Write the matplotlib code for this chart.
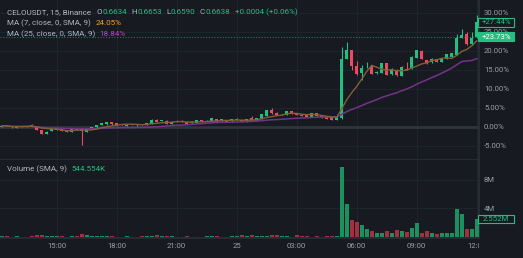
"""CELOUSDT 15m - gráfico de velas em escala percentual, estilo TradingView escuro."""

import matplotlib.pyplot as plt
import numpy as np
import pandas as pd
from matplotlib.patches import Rectangle
from matplotlib.transforms import Bbox, TransformedBbox, blended_transform_factory

# Dados (variação % em relação ao início da janela)
abertura = [
    0.0, 0.35, 0.1, -0.25, 0.1, 0.05, 0.35, 0.1, -0.85, -1.9,
    -1.2, -0.8, -0.5, -0.9, -1.45, -0.55, -0.55, -1.3, -0.6, -0.2,
    0.4, 0.6, 1.15, 0.9, 0.4, 0.2, 0.55, 0.35, 0.55, 0.5,
    0.8, 1.85, 1.45, 1.6, 0.8, 1.6, 1.6, 1.35, 0.9, 1.05,
    1.75, 1.45, 1.6, 2.1, 1.4, 1.75, 1.4, 1.7, 1.75, 1.4,
    2.4, 1.7, 1.95, 2.8, 4.4, 3.7, 3.0, 3.2, 4.05, 3.5,
    3.2, 3.25, 2.65, 3.5, 2.95, 2.6, 2.45, 1.75, 2.2, 17.9,
    20.2, 16.0, 14.0, 15.6, 16.0, 14.0, 14.2, 16.7, 13.9, 14.9,
    13.4, 15.3, 15.4, 18.1, 20.0, 17.5, 16.9, 17.8, 17.0, 17.9,
    18.4, 18.9, 23.4, 24.4, 21.7, 23.5,
]
maxima = [
    0.4, 0.45, 0.15, 0.05, 0.15, 0.3, 0.7, 0.15, -0.8, -1.25,
    -0.55, -0.4, -0.45, -0.85, -0.65, -0.5, -0.5, -0.55, 0.0, 0.5,
    1.05, 1.2, 1.2, 0.95, 0.6, 0.6, 0.6, 0.8, 0.6, 1.05,
    1.9, 1.9, 1.7, 1.65, 1.4, 1.65, 1.65, 1.4, 1.4, 1.8,
    1.8, 1.65, 2.3, 2.15, 2.0, 1.8, 2.1, 2.3, 1.8, 2.05,
    2.8, 2.35, 3.35, 4.5, 4.8, 3.75, 3.3, 4.15, 4.1, 3.55,
    3.25, 3.3, 3.55, 3.55, 3.0, 2.65, 2.5, 2.5, 21.0, 22.4,
    20.3, 17.4, 16.2, 17.0, 16.2, 14.6, 16.8, 16.8, 15.5, 15.2,
    15.9, 17.0, 18.5, 20.3, 20.1, 17.6, 18.0, 17.9, 18.1, 19.1,
    19.4, 24.5, 25.6, 25.0, 25.0, 29.4,
]
minimas = [
    -0.1, 0.1, -0.3, -0.3, 0.0, 0.0, 0.15, -0.9, -1.85, -1.95,
    -1.25, -0.85, -1.05, -1.5, -1.5, -0.9, -4.8, -1.35, -0.65, -0.25,
    0.35, 0.55, 0.55, 0.3, 0.35, 0.15, 0.35, 0.3, 0.4, 0.45,
    0.75, 1.15, 1.4, 0.75, 0.75, 1.35, 1.25, 0.65, 0.85, 1.0,
    1.25, 1.4, 1.55, 1.35, 1.35, 1.3, 1.35, 1.65, 1.2, 1.35,
    1.75, 1.65, 1.9, 2.75, 3.45, 2.95, 2.95, 3.15, 3.3, 2.95,
    2.85, 2.6, 2.6, 2.75, 2.4, 1.95, 1.7, 1.7, 2.1, 17.8,
    14.9, 13.6, 12.3, 15.4, 13.8, 13.9, 14.1, 13.6, 13.6, 13.4,
    13.3, 14.9, 15.3, 18.0, 17.7, 16.6, 16.8, 16.9, 16.9, 17.8,
    18.3, 18.8, 23.3, 21.6, 21.6, 23.4,
]
fechamento = [
    0.25, 0.15, -0.2, 0.0, 0.05, 0.25, 0.2, -0.85, -1.8, -1.3,
    -0.6, -0.45, -1.0, -1.4, -0.7, -0.85, -1.2, -0.6, -0.05, 0.45,
    1.0, 1.15, 0.6, 0.35, 0.55, 0.55, 0.4, 0.75, 0.45, 1.0,
    1.85, 1.2, 1.65, 0.8, 1.35, 1.4, 1.3, 0.7, 1.35, 1.75,
    1.3, 1.6, 2.2, 1.4, 1.95, 1.35, 1.95, 2.0, 1.25, 2.0,
    1.8, 2.3, 3.25, 4.4, 3.5, 3.0, 3.15, 4.1, 3.35, 3.0,
    2.9, 2.65, 3.5, 2.8, 2.45, 2.0, 1.75, 2.45, 17.9, 20.2,
    16.0, 13.9, 15.4, 15.8, 13.9, 14.4, 16.7, 13.7, 15.1, 13.5,
    15.8, 15.0, 18.3, 20.2, 17.8, 16.8, 17.9, 17.0, 18.0, 19.0,
    19.3, 23.3, 24.1, 21.7, 23.3, 27.44,
]
# Volume em milhões
volume = [
    0.15, 0.12, 0.1, 0.12, 0.08, 0.1, 0.12, 0.35, 0.25, 0.18,
    0.15, 0.12, 0.12, 0.1, 0.15, 0.2, 0.45, 0.25, 0.18, 0.15,
    0.12, 0.15, 0.12, 0.1, 0.1, 0.12, 0.08, 0.1, 0.15, 0.12,
    0.18, 0.3, 0.12, 0.15, 0.12, 0.1, 0.1, 0.12, 0.1, 0.1,
    0.1, 0.12, 0.15, 0.12, 0.1, 0.1, 0.15, 0.2, 0.25, 0.2,
    0.25, 0.2, 0.15, 0.18, 0.3, 0.25, 0.15, 0.15, 0.1, 0.25,
    0.12, 0.15, 0.1, 0.12, 0.1, 0.2, 0.2, 0.15, 9.83, 4.58,
    2.46, 2.18, 1.76, 1.2, 0.92, 0.63, 0.63, 0.92, 0.6, 1.06,
    0.87, 0.77, 1.29, 1.95, 0.6, 0.87, 0.6, 0.49, 0.54, 0.6,
    0.6, 3.97, 3.26, 1.2, 1.1, 2.552,
]

rotulos_tempo = ["15:00", "18:00", "21:00", "25", "03:00", "06:00", "09:00", "12:00"]
pos_tempo = [11, 23, 35, 47, 59, 71, 83, 95]
ticks_preco = [-5, 0, 5, 10, 15, 20, 25, 30]
ticks_volume = [4, 8]
rotulos_volume = ["4M", "8M"]

ultimo_pct = 27.44
linha_pct = 23.73
ultimo_volume = 2.552

# Cores
FUNDO = "#171a21"
GRADE = "#1f232b"
SEPARADOR = "#2b2f38"
TEXTO = "#b2b5be"
TEXTO_EIXO = "#9a9da6"
VERDE = "#22bf80"
VERMELHO = "#ec4a5f"
VERDE_VOL = "#1b9160"
VERMELHO_VOL = "#a3303f"
COR_MA7 = "#7f6135"
COR_MA25 = "#74338a"

plt.rcParams["font.family"] = ["Roboto", "DejaVu Sans"]
FS = 5.6
FS_LEG = 5.8

W, H = 523, 258


def caixa(x0, y0, x1, y1):
    """Retângulo em pixels (y a partir do topo) -> coordenadas da figura."""
    return [x0 / W, 1 - y1 / H, (x1 - x0) / W, (y1 - y0) / H]


fig = plt.figure(figsize=(W / 100, H / 100), dpi=100)
fig.patch.set_facecolor(FUNDO)

ax = fig.add_axes(caixa(0, 0, 479, 159.5))
axv = fig.add_axes(caixa(0, 160, 479, 238), sharex=ax)

x = np.arange(len(fechamento))
o = np.array(abertura)
c = np.array(fechamento)
hi = np.array(maxima)
lo = np.array(minimas)
sobe = c >= o
cores = np.where(sobe, VERDE, VERMELHO)
cores_vol = np.where(sobe, VERDE_VOL, VERMELHO_VOL)

for a in (ax, axv):
    a.set_facecolor(FUNDO)
    for lado in ("top", "left"):
        a.spines[lado].set_visible(False)
    for lado in ("right", "bottom"):
        a.spines[lado].set_color(SEPARADOR)
        a.spines[lado].set_linewidth(1.2)
    a.yaxis.tick_right()
    a.tick_params(length=0, labelsize=FS, colors=TEXTO_EIXO, pad=3.6)
    a.grid(True, color=GRADE, lw=0.8)
    a.set_axisbelow(True)

ax.set_xlim(-0.34, 95.46)
ax.set_ylim(-8.63, 33.34)
ax.set_yticks(ticks_preco)
ax.set_yticklabels([f"{t:.2f}%" for t in ticks_preco])
ax.set_xticks(pos_tempo)
ax.tick_params(axis="x", labelbottom=False)

# Linha base 0%
ax.axhline(0, color="#30343d", lw=2.0, zorder=1)
# Linha pontilhada do preço
ax.axhline(linha_pct, color=VERDE, lw=0.8, ls=(0, (1, 1.5)), alpha=0.6, zorder=2)

# Velas
corpo = np.maximum(np.abs(c - o), 0.15)
ax.vlines(x, lo, hi, colors=cores, lw=0.8, zorder=3)
ax.bar(x, corpo, bottom=np.minimum(o, c), width=0.7, color=cores, zorder=4)

# Médias móveis
serie = pd.Series(c)
ma7 = serie.rolling(7, min_periods=1).mean()
ma25 = serie.rolling(25, min_periods=1).mean()
ax.plot(x, ma25, color=COR_MA25, lw=1.1, zorder=5)
ax.plot(x, ma7, color=COR_MA7, lw=1.0, zorder=5)

# Volume
axv.set_ylim(-0.1, 10.74)
axv.bar(x, volume, width=0.85, color=cores_vol, zorder=3)
axv.set_yticks(ticks_volume)
axv.set_yticklabels(rotulos_volume)
axv.set_xticks(pos_tempo)
axv.tick_params(axis="x", labelbottom=False)

# Rótulos de tempo (recortados na borda da escala de preço)
recorte = TransformedBbox(Bbox.from_extents(0, 0, 4.79, H / 100), fig.dpi_scale_trans)
trans_tempo = blended_transform_factory(axv.transData, axv.transAxes)
for p, r in zip(pos_tempo, rotulos_tempo):
    t = axv.text(p, -0.105, r, transform=trans_tempo, ha="center", va="center",
                 fontsize=FS, color=TEXTO_EIXO, clip_on=True)
    t.set_clip_box(recorte)

# Etiquetas na escala de preço
trans_p = blended_transform_factory(ax.transAxes, ax.transData)
larg = 36 / 479
x0 = 1.0 - 1 / 479
meia = 4.3 / 3.8
ax.add_patch(Rectangle((x0, ultimo_pct - meia), larg, 2 * meia, transform=trans_p,
                       facecolor=FUNDO, edgecolor=VERDE, lw=0.8, clip_on=False, zorder=10))
ax.text(x0 + larg / 2, ultimo_pct, f"+{ultimo_pct:.2f}%", transform=trans_p,
        ha="center", va="center", fontsize=FS, color=VERDE, clip_on=False, zorder=11)
ax.add_patch(Rectangle((x0, linha_pct - meia), larg, 2 * meia, transform=trans_p,
                       facecolor=VERDE, edgecolor=VERDE, lw=0.8, clip_on=False, zorder=10))
ax.text(x0 + larg / 2, linha_pct, f"+{linha_pct:.2f}%", transform=trans_p,
        ha="center", va="center", fontsize=FS, color="white", clip_on=False, zorder=11)

trans_v = blended_transform_factory(axv.transAxes, axv.transData)
meia_v = 4.3 / 7.2
axv.add_patch(Rectangle((x0, ultimo_volume - meia_v), larg, 2 * meia_v, transform=trans_v,
                        facecolor=FUNDO, edgecolor=VERDE, lw=0.8, clip_on=False, zorder=10))
axv.text(x0 + larg / 2, ultimo_volume, f"{ultimo_volume:.3f}M", transform=trans_v,
         ha="center", va="center", fontsize=FS, color=VERDE, clip_on=False, zorder=11)

# Legendas do topo: cada linha é uma sequência de (texto, cor, espaço depois)
renderer = fig.canvas.get_renderer()


def linha_legenda(yp, partes, xp=7):
    for s, cor, espaco in partes:
        t = fig.text(xp / W, 1 - yp / H, s, ha="left", va="center", fontsize=FS_LEG, color=cor)
        xp = t.get_window_extent(renderer).x1 + espaco


linha_legenda(12.5, [
    ("CELOUSDT, 15, Binance", TEXTO, 5),
    ("O", TEXTO, 0.3), ("0.6634", VERDE, 4.5),
    ("H", TEXTO, 0.3), ("0.6653", VERDE, 4.5),
    ("L", TEXTO, 0.3), ("0.6590", VERDE, 4.5),
    ("C", TEXTO, 0.3), ("0.6638", VERDE, 4.5),
    ("+0.0004 (+0.06%)", VERDE, 0),
])
linha_legenda(23.5, [("MA (7, close, 0, SMA, 9)", TEXTO, 4.5), ("24.05%", "#f5a31a", 0)])
linha_legenda(34.5, [("MA (25, close, 0, SMA, 9)", TEXTO, 4.5), ("18.84%", "#c23bd4", 0)])
linha_legenda(169, [("Volume (SMA, 9)", TEXTO, 4.5), ("544.554K", VERDE, 0)])

fig.savefig("out.png", dpi=100, facecolor=FUNDO)
